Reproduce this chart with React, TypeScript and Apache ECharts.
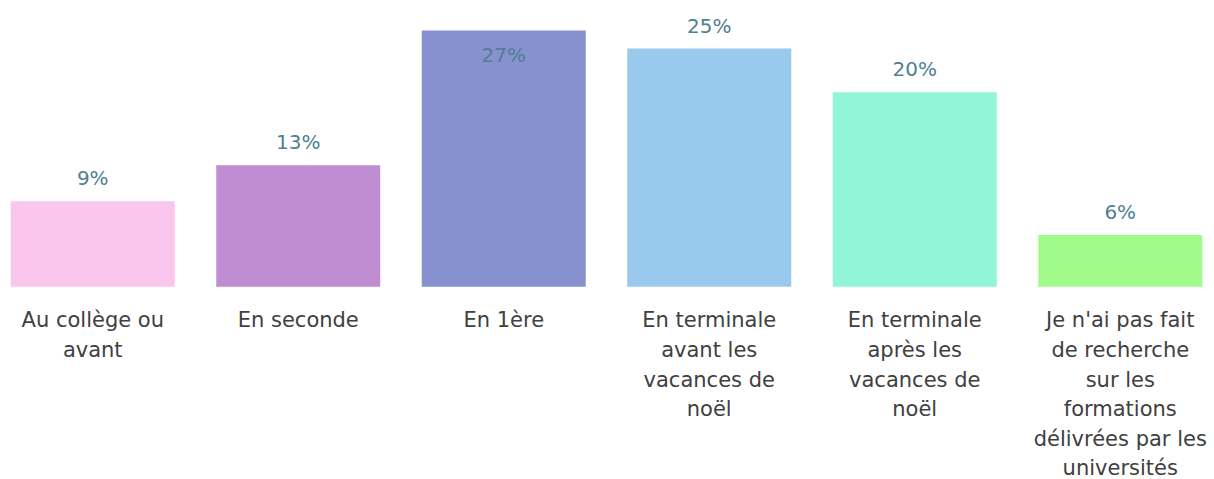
import React, { useEffect, useRef } from "react";
import * as echarts from "echarts";

const categories = [
  "Au collège ou\navant",
  "En seconde",
  "En 1ère",
  "En terminale\navant les\nvacances de\nnoël",
  "En terminale\naprès les\nvacances de\nnoël",
  "Je n'ai pas fait\nde recherche\nsur les\nformations\ndélivrées par les\nuniversités",
];
const values = [9.0, 12.8, 27.0, 25.1, 20.5, 5.45];
const valueLabels = ["9%", "13%", "27%", "25%", "20%", "6%"];
const barColors = ["#F9C6EE", "#C08DD3", "#8791CF", "#9AC9EE", "#92F5D8", "#A1FB8A"];
const insideLabelIndex = [2];

const FONT = "'DejaVu Sans', sans-serif";

export default function App() {
  const ref = useRef<HTMLDivElement>(null);
  useEffect(() => {
    if (!ref.current) return;
    const chart = echarts.init(ref.current, undefined, { renderer: "svg" });
    chart.setOption({
      animation: false,
      grid: { left: 0, right: 0, top: 2, bottom: 192.3, containLabel: false, outerBoundsMode: "none" },
      xAxis: {
        type: "category",
        data: categories,
        axisLine: { show: false },
        axisTick: { show: false },
        axisLabel: {
          interval: 0,
          color: "#404040",
          fontFamily: FONT,
          fontSize: 21,
          lineHeight: 29.6,
          margin: 19,
        },
      },
      yAxis: {
        type: "value",
        min: 0,
        max: 30,
        show: false,
        splitLine: { show: false },
      },
      series: [
        {
          type: "bar",
          barWidth: 164,
          data: values.map((v, i) => ({
            value: v,
            itemStyle: { color: barColors[i] },
            label: insideLabelIndex.includes(i)
              ? { position: "insideTop", distance: 15 }
              : { position: "top", distance: 13 },
          })),
          label: {
            show: true,
            color: "#4F7F93",
            fontFamily: FONT,
            fontSize: 20,
            formatter: (p: any) => valueLabels[p.dataIndex],
          },
        },
      ],
    });
    return () => chart.dispose();
  }, []);
  return (
    <div style={{ position: "fixed", left: 0, top: 0, width: 1214, height: 479, overflow: "hidden", background: "#fff" }}>
      <div ref={ref} style={{ position: "absolute", left: -10, top: 0, width: 1233, height: 479 }} />
    </div>
  );
}
